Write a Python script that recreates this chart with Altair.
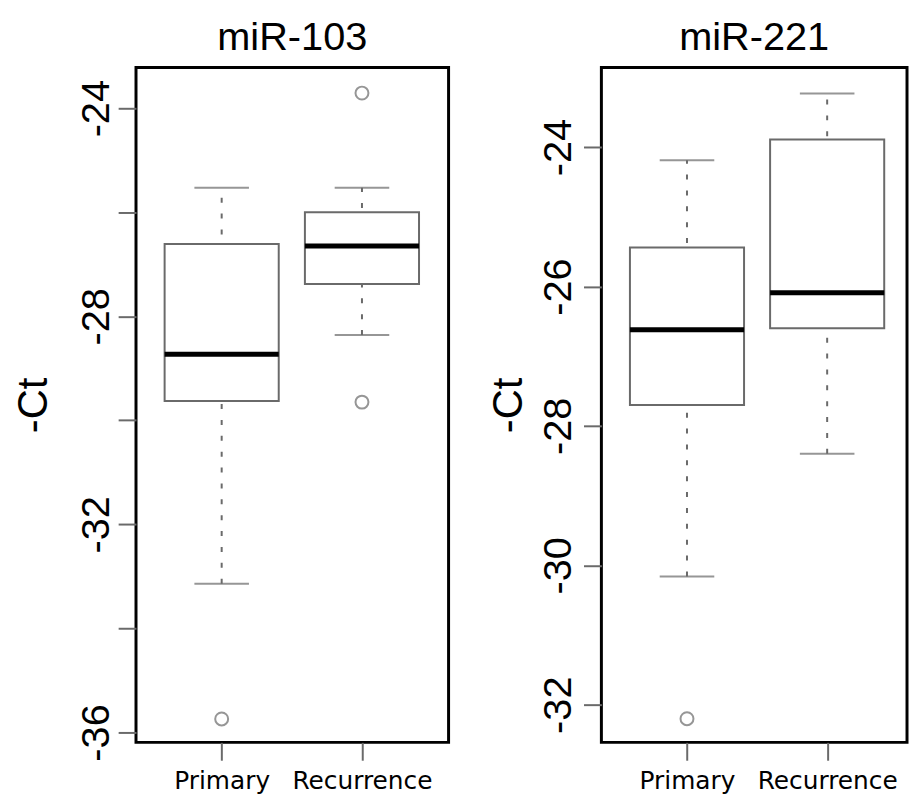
import altair as alt
import pandas as pd

groups = ["Primary", "Recurrence"]
group_pos = [1, 2]

# miR-103 box statistics
mir103_whisker_low = [-33.14, -28.36]
mir103_q1 = [-29.63, -27.38]
mir103_median = [-28.73, -26.65]
mir103_q3 = [-26.61, -26.00]
mir103_whisker_high = [-25.53, -25.53]
mir103_outlier_pos = [1, 2, 2]
mir103_outlier_value = [-35.74, -23.71, -29.65]
mir103_ticks = [-36, -34, -32, -30, -28, -26, -24]
mir103_domain = [-36.19, -23.22]

# miR-221 box statistics
mir221_whisker_low = [-30.16, -28.40]
mir221_q1 = [-27.70, -26.60]
mir221_median = [-26.62, -26.09]
mir221_q3 = [-25.44, -23.89]
mir221_whisker_high = [-24.19, -23.23]
mir221_outlier_pos = [1]
mir221_outlier_value = [-32.20]
mir221_ticks = [-32, -30, -28, -26, -24]
mir221_domain = [-32.54, -22.86]

GRAY = "#6a6a6a"


def panel(name, lo, q1, med, q3, hi, opos, oval, ticks, domain, label_expr,
          label_pad, title_pad, width, xdomain):
    stats = pd.DataFrame({"pos": group_pos, "group": groups, "lo": lo, "q1": q1,
                          "med": med, "q3": q3, "hi": hi})
    outl = pd.DataFrame({"pos": opos, "value": oval})
    ttl = pd.DataFrame({"t": [name]})
    xscale = alt.Scale(domain=xdomain, nice=False, zero=False)
    x = alt.X("pos:Q", scale=xscale,
              axis=alt.Axis(title=None, values=group_pos, labelAngle=0,
                            labelExpr="datum.value == 1 ? 'Primary' : 'Recurrence'",
                            labelFont="DejaVu Sans", labelFontSize=25,
                            labelColor="black", labelBaseline="alphabetic",
                            labelAlign="center", labelPadding=28,
                            tickSize=18, tickColor=GRAY, tickWidth=2,
                            domain=False, grid=False, labelFlush=False,
                            labelOverlap=False))
    yscale = alt.Scale(domain=domain, nice=False, zero=False)
    yaxis = alt.Axis(title="-Ct", values=ticks, labelExpr=label_expr,
                     labelAngle=-90, labelAlign="center",
                     labelBaseline="alphabetic", labelFont="Liberation Sans",
                     labelFontSize=40, labelColor="black",
                     labelPadding=label_pad, tickSize=18, tickColor=GRAY,
                     tickWidth=2, domain=False, grid=False,
                     minExtent=60, maxExtent=60, titlePadding=title_pad,
                     titleFont="Liberation Sans", titleFontSize=42,
                     titleFontWeight="normal", titleColor="black",
                     titleBaseline="alphabetic", labelOverlap=False,
                     labelFlush=False)
    base = alt.Chart(stats)
    whisk = base.mark_rule(color=GRAY, strokeWidth=2, strokeDash=[5, 11]).encode(
        x=x, y=alt.Y("lo:Q", scale=yscale, axis=yaxis), y2="hi:Q")
    box = base.mark_bar(size=115, fill="white", stroke=GRAY, strokeWidth=2).encode(
        x=alt.X("pos:Q", scale=xscale), y=alt.Y("q1:Q", scale=yscale), y2="q3:Q")
    cap_lo = base.mark_tick(orient="horizontal", size=55, thickness=2, color=GRAY).encode(
        x=alt.X("pos:Q", scale=xscale), y=alt.Y("lo:Q", scale=yscale))
    cap_hi = base.mark_tick(orient="horizontal", size=55, thickness=2, color=GRAY).encode(
        x=alt.X("pos:Q", scale=xscale), y=alt.Y("hi:Q", scale=yscale))
    median = base.mark_tick(orient="horizontal", size=115, thickness=5, color="black",
                            opacity=1).encode(
        x=alt.X("pos:Q", scale=xscale), y=alt.Y("med:Q", scale=yscale))
    pts = alt.Chart(outl).mark_point(shape="circle", filled=False, size=170,
                                     strokeWidth=2, color=GRAY).encode(
        x=alt.X("pos:Q", scale=xscale), y=alt.Y("value:Q", scale=yscale))
    title = alt.Chart(ttl).mark_text(font="Liberation Sans", fontSize=40,
                                     color="black", baseline="alphabetic",
                                     align="center").encode(
        text="t:N", x=alt.value(width / 2), y=alt.value(-18))
    return alt.layer(whisk, box, cap_lo, cap_hi, median, pts, title).properties(
        width=width, height=680)


left = panel("miR-103", mir103_whisker_low, mir103_q1, mir103_median, mir103_q3,
             mir103_whisker_high, mir103_outlier_pos, mir103_outlier_value,
             mir103_ticks, mir103_domain,
             "datum.value % 4 == 0 ? '' + datum.value : ''", 10, 30, 315,
             [0.4247, 2.582])
right = panel("miR-221", mir221_whisker_low, mir221_q1, mir221_median, mir221_q3,
              mir221_whisker_high, mir221_outlier_pos, mir221_outlier_value,
              mir221_ticks, mir221_domain,
              "'' + datum.value", 13, 21, 308, [0.4247, 2.5343])

chart = alt.hconcat(left, right, spacing=35).properties(
    padding={"left": 3, "top": 5, "right": 0, "bottom": 0},
    background="white"
).configure_view(stroke="black", strokeWidth=3)

chart.save("out.html", embed_options={"renderer": "svg", "actions": False})
